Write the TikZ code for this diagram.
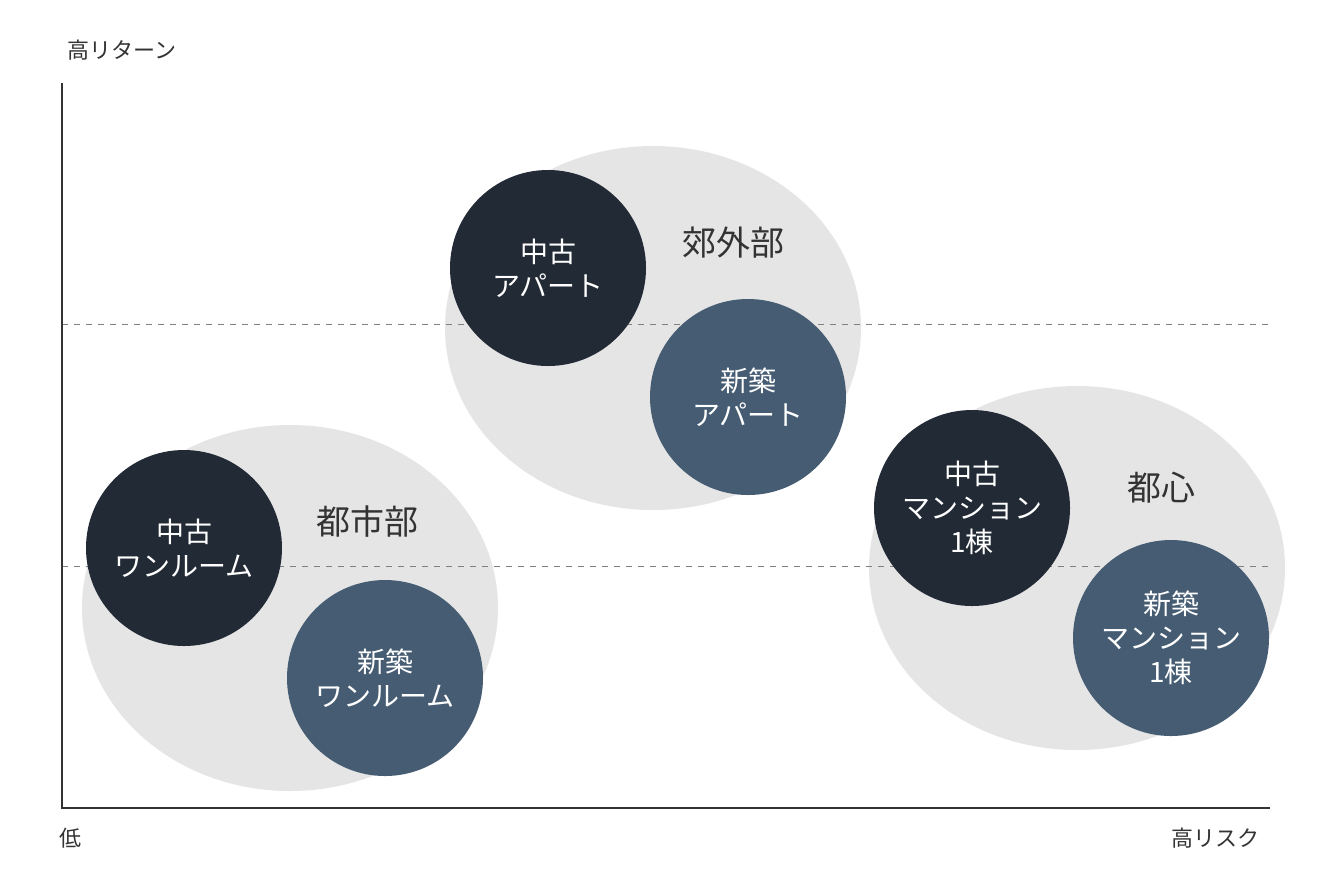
\documentclass[tikz,border=0pt]{standalone}
\usepackage{fontspec}
\setmainfont{Noto Sans CJK JP}
\definecolor{darknavy}{HTML}{212A35}
\definecolor{slateblue}{HTML}{455C73}
\definecolor{areagray}{HTML}{E5E5E5}
\definecolor{textgray}{HTML}{333333}
\tikzset{
  area/.style={fill=areagray, draw=none},
  oldbox/.style={circle, fill=darknavy, minimum size=98pt, inner sep=0pt, text=white, font=\fontsize{14}{17}\selectfont, align=center},
  newbox/.style={oldbox, fill=slateblue},
  arealabel/.style={text=textgray, font=\fontsize{17}{20}\selectfont},
  axislabel/.style={text=textgray, font=\fontsize{11}{13}\selectfont}
}
\begin{document}
\begin{tikzpicture}[x=0.5pt, y=-0.5pt]
    \useasboundingbox[fill=white] (0,0) rectangle (1320,880);

    % areas
    \fill[area] (290,608) ellipse [x radius=208, y radius=183];
    \fill[area] (653,328) ellipse [x radius=208, y radius=182];
    \fill[area] (1077,568) ellipse [x radius=208, y radius=182];

    % grid and axes
    \draw[gray, dashed, line width=0.5pt] (62,324) -- (1270,324);
    \draw[gray, dashed, line width=0.5pt] (62,566) -- (1270,566);
    \coordinate (top) at (62,83);
    \coordinate (origin) at (62,808);
    \coordinate (right) at (1270,808);
    \draw[textgray, line width=0.6pt] (top) -- (origin) -- (right);

    \node[axislabel] (ret) at (122,50) {高リターン};
    \node[axislabel] (low) at (70,838) {低};
    \node[axislabel] (risk) at (1215,838) {高リスク};

    % area labels
    \node[arealabel] (toshibu) at (367,522) {都市部};
    \node[arealabel] (kogaibu) at (733,243) {郊外部};
    \node[arealabel] (toshin) at (1161,488) {都心};

    % circles
    \node[oldbox] (oldroom) at (184,548) {中古\\ワンルーム};
    \node[newbox] (newroom) at (385,678) {新築\\ワンルーム};
    \node[oldbox] (oldapt) at (548,268) {中古\\アパート};
    \node[newbox] (newapt) at (748,397) {新築\\アパート};
    \node[oldbox] (oldmansion) at (972,508) {中古\\マンション\\1棟};
    \node[newbox] (newmansion) at (1171,638) {新築\\マンション\\1棟};
\end{tikzpicture}
\end{document}
